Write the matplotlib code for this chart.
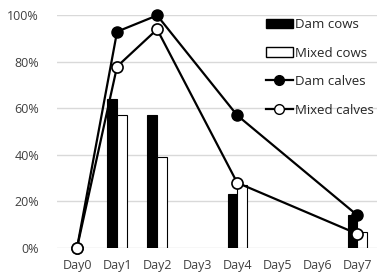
import numpy as np
import matplotlib.pyplot as plt
from matplotlib.patches import Patch
from matplotlib.lines import Line2D

days = ["Day0", "Day1", "Day2", "Day3", "Day4", "Day5", "Day6", "Day7"]
nan = float('nan')
dam_cows = [nan, 64, 57, nan, 23, nan, nan, 14]
mixed_cows = [nan, 57, 39, nan, 27, nan, nan, 7]
calf_days = [0, 1, 2, 4, 7]
dam_calves = [0, 93, 100, 57, 14]
mixed_calves = [0, 78, 94, 28, 6]

plt.rcParams['font.family'] = ['Open Sans', 'DejaVu Sans']

fig = plt.figure(figsize=(3.8, 2.8), dpi=100)
ax = fig.add_axes([0.15, 0.115, 0.843, 0.83])

x = np.arange(len(days))
w = 0.24
ax.bar(x - w / 2, dam_cows, w, color='black', edgecolor='black', linewidth=0.8, zorder=2)
ax.bar(x + w / 2, mixed_cows, w, color='white', edgecolor='black', linewidth=0.8, zorder=2)
ax.plot(calf_days, dam_calves, color='black', lw=1.6, marker='o', ms=8,
        mfc='black', mec='black', zorder=3, clip_on=False)
ax.plot(calf_days, mixed_calves, color='black', lw=1.6, marker='o', ms=8,
        mfc='white', mec='black', mew=1.2, zorder=4, clip_on=False)

ax.set_xlim(-0.5, 7.5)
ax.set_ylim(0, 100)
ax.set_xticks(x)
ax.set_xticklabels(days)
ax.set_yticks(range(0, 101, 20))
ax.set_yticklabels([f"{v}%" for v in range(0, 101, 20)])
ax.yaxis.grid(True, color='#d9d9d9', lw=1, zorder=0)
ax.tick_params(length=0, labelsize=9, colors='#404040')
ax.tick_params(axis='x', pad=8)
ax.tick_params(axis='y', pad=13)
for s in ax.spines.values():
    s.set_visible(False)

handles = [
    Patch(facecolor='black', edgecolor='black'),
    Patch(facecolor='white', edgecolor='black'),
    Line2D([], [], color='black', lw=1.6, marker='o', ms=7, mfc='black'),
    Line2D([], [], color='black', lw=1.6, marker='o', ms=7, mfc='white'),
]
labels = ["Dam cows", "Mixed cows", "Dam calves", "Mixed calves"]
ax.legend(handles, labels, loc='upper right', bbox_to_anchor=(1.025, 1.04),
          frameon=False, fontsize=9.5, labelspacing=1.18, handlelength=2.0,
          handletextpad=0.15, labelcolor='#262626')

fig.savefig("out.png", dpi=100)
